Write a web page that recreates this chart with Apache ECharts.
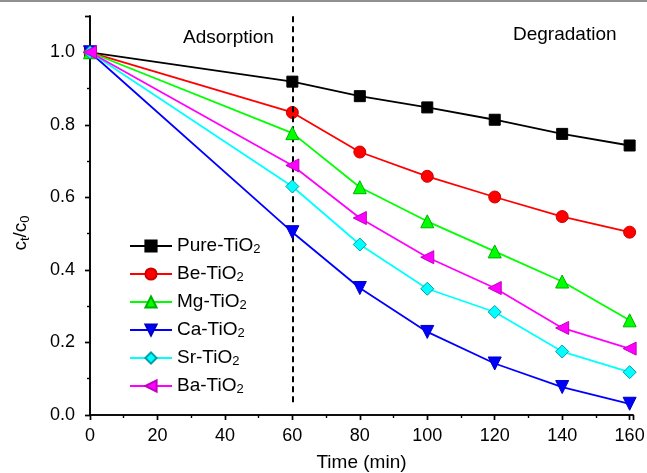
<!DOCTYPE html>
<html><head><meta charset="utf-8">
<script src="https://cdn.jsdelivr.net/npm/echarts@6/dist/echarts.min.js"></script>
<style>html,body{margin:0;padding:0;background:#fff}#c{width:647px;height:473px}</style>
</head><body><div id="c"></div>
<script>
const times = [0, 60, 80, 100, 120, 140, 160];
const seriesNames = ['Pure-TiO2', 'Be-TiO2', 'Mg-TiO2', 'Ca-TiO2', 'Sr-TiO2', 'Ba-TiO2'];
const pure = [1.0, 0.919, 0.879, 0.848, 0.814, 0.775, 0.743];
const be   = [1.0, 0.834, 0.725, 0.658, 0.601, 0.547, 0.504];
const mg   = [1.0, 0.777, 0.628, 0.534, 0.451, 0.368, 0.261];
const ca   = [1.0, 0.504, 0.350, 0.229, 0.142, 0.077, 0.031];
const sr   = [1.0, 0.630, 0.470, 0.348, 0.284, 0.175, 0.118];
const ba   = [1.0, 0.688, 0.543, 0.435, 0.350, 0.240, 0.183];
const xTicks = [0, 20, 40, 60, 80, 100, 120, 140, 160];
const yTicks = [0.0, 0.2, 0.4, 0.6, 0.8, 1.0];
const phaseLabels = ['Adsorption', 'Degradation'];

const FONT = '"Liberation Sans", Arial, sans-serif';
const styles = [
  {c:'#000000', b:'#000000', sym:'rect', size:11, rot:0},
  {c:'#ff0000', b:'#cc0000', sym:'circle', size:12, rot:0},
  {c:'#00ff00', b:'#00b000', sym:'triangle', size:13, rot:0},
  {c:'#0000ff', b:'#0000c0', sym:'triangle', size:13, rot:180},
  {c:'#00ffff', b:'#009ea8', sym:'diamond', size:13, rot:0},
  {c:'#ff00ff', b:'#c000c0', sym:'triangle', size:13, rot:90}
];
const allData = [pure, be, mg, ca, sr, ba];

const series = allData.map((vals, i) => {
  const s = styles[i];
  const o = {
    name: seriesNames[i],
    type: 'line',
    data: vals.map((v, j) => [times[j], v]),
    symbol: s.sym,
    symbolSize: s.size,
    symbolRotate: s.rot,
    lineStyle: {color: s.c, width: 1.8},
    itemStyle: {color: s.c, borderColor: s.b, borderWidth: 1},
    z: 3 + i,
    animation: false
  };
  if (i === 0) {
    o.markLine = {
      silent: true, symbol: ['none', 'none'], animation: false,
      lineStyle: {color: '#000', type: [6, 4], width: 2},
      label: {show: false},
      data: [[{coord: [60, 0.035]}, {coord: [60, 1.1]}]]
    };
  }
  return o;
});

const legendFmt = n => n.replace('TiO2', 'TiO{sub|2}');

const axisCommon = {
  axisLine: {lineStyle: {color: '#000', width: 1.6}},
  splitLine: {show: false}
};
const tickStyle = {lineStyle: {width: 1.4, color: '#000'}};
const minorStyle = {lineStyle: {width: 1.2, color: '#000'}};

const option = {
  animation: false,
  backgroundColor: '#fff',
  grid: {left: 90, right: 14, top: 16, bottom: 58, containLabel: false, outerBoundsMode: 'none'},
  xAxis: [
    Object.assign({}, axisCommon, {
      type: 'value', min: 0, max: 161, interval: 20, position: 'bottom',
      name: 'Time (min)', nameLocation: 'middle', nameGap: 38,
      nameTextStyle: {fontFamily: FONT, fontSize: 19, color: '#000'},
      axisTick: Object.assign({length: 5}, tickStyle),
      minorTick: Object.assign({show: true, splitNumber: 2, length: 3}, minorStyle),
      axisLabel: {fontFamily: FONT, fontSize: 18, color: '#000', margin: 12, showMaxLabel: false,
        formatter: v => xTicks.includes(v) ? String(v) : ''}
    }),
    Object.assign({}, axisCommon, {
      type: 'value', min: 0, max: 161, interval: 20, position: 'top',
      axisTick: Object.assign({inside: true, length: 5}, tickStyle),
      minorTick: Object.assign({show: true, splitNumber: 2, length: 3}, minorStyle),
      axisLabel: {show: false}
    })
  ],
  yAxis: [
    Object.assign({}, axisCommon, {
      type: 'value', min: 0, max: 1.1, interval: 0.2, position: 'left',
      axisTick: Object.assign({length: 5}, tickStyle),
      minorTick: Object.assign({show: true, splitNumber: 2, length: 3}, minorStyle),
      axisLabel: {fontFamily: FONT, fontSize: 18, color: '#000', margin: 15, showMaxLabel: false,
        formatter: v => {
          const m = yTicks.find(t => Math.abs(t - v) < 1e-6);
          return m === undefined ? '' : m.toFixed(1);
        }}
    }),
    Object.assign({}, axisCommon, {
      type: 'value', min: 0, max: 1.1, interval: 0.2, position: 'right',
      axisTick: Object.assign({inside: true, length: 5}, tickStyle),
      minorTick: Object.assign({show: true, splitNumber: 2, length: 3}, minorStyle),
      axisLabel: {show: false}
    })
  ],
  legend: {
    orient: 'vertical', left: 129, top: 236, padding: 0,
    itemWidth: 42, itemHeight: 14, itemGap: 8,
    data: seriesNames,
    formatter: legendFmt,
    textStyle: {fontFamily: FONT, fontSize: 19, color: '#000', lineHeight: 20,
      rich: {sub: {fontFamily: FONT, fontSize: 13, color: '#000', lineHeight: 20, verticalAlign: 'bottom', padding: [6, 0, 0, 0]}}}
  },
  graphic: [
    {type: 'rect', left: 0, top: 0, shape: {width: 647, height: 2}, style: {fill: '#909090'}, silent: true},
    {type: 'text', left: 183, top: 28, style: {text: phaseLabels[0], font: '19px ' + FONT, fill: '#000'}},
    {type: 'text', left: 513, top: 25, style: {text: phaseLabels[1], font: '19px ' + FONT, fill: '#000'}},
    {type: 'text', x: 21, y: 233, rotation: Math.PI / 2,
      style: {text: 'c{sub|t}/c{sub|0}', align: 'center', verticalAlign: 'middle',
        font: '19px ' + FONT, fill: '#000',
        rich: {sub: {font: '13px ' + FONT, fill: '#000', verticalAlign: 'bottom', padding: [8, 0, 0, 0]}}}}
  ],
  series: series
};

const chart = echarts.init(document.getElementById('c'), null, {renderer: 'canvas'});
chart.setOption(option);
</script>
</body></html>
